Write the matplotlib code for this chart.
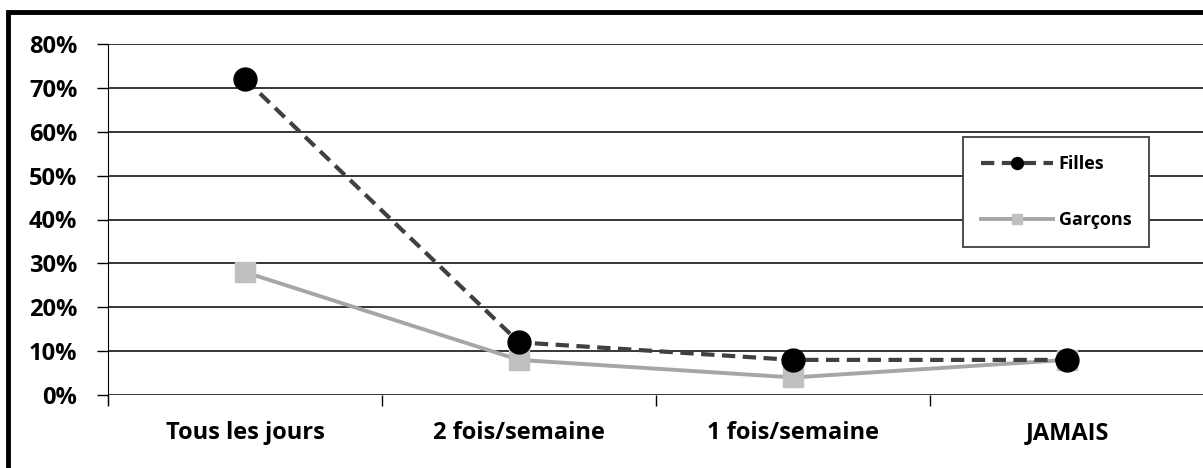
import matplotlib.pyplot as plt
from matplotlib.patches import Rectangle
from matplotlib.ticker import FixedLocator, PercentFormatter

categories = ["Tous les jours", "2 fois/semaine", "1 fois/semaine", "JAMAIS"]
filles = [72, 12, 8, 8]
garcons = [28, 8, 4, 8]
y_ticks = [0, 10, 20, 30, 40, 50, 60, 70, 80]

plt.rcParams['font.family'] = ['Open Sans', 'DejaVu Sans']

fig = plt.figure(figsize=(12.03, 4.68), dpi=100)
ax = fig.add_axes([108 / 1203, 73 / 468, 1096 / 1203, 351 / 468])

x = list(range(len(categories)))
ax.plot(x, filles, color='#404040', lw=3, ls=(0, (3.2, 1.8)), marker='o',
        markersize=16.5, markerfacecolor='black', markeredgecolor='black',
        label='Filles', zorder=4)
ax.plot(x, garcons, color='#A6A6A6', lw=2.8, marker='s', markersize=15,
        markerfacecolor='#C0C0C0', markeredgecolor='#C0C0C0',
        label='Garçons', zorder=3)

ax.set_xlim(-0.5, len(categories) - 0.5)
ax.set_ylim(0, 80)
ax.set_yticks(y_ticks)
ax.yaxis.set_major_formatter(PercentFormatter(decimals=0))
ax.grid(axis='y', color='black', lw=1.1)
ax.set_axisbelow(True)

ax.set_xticks(x)
ax.set_xticklabels(categories, fontsize=17, fontweight='bold')
ax.xaxis.set_minor_locator(FixedLocator([i - 0.5 for i in range(len(categories) + 1)]))
ax.tick_params(axis='x', which='major', length=0, pad=19)
ax.tick_params(axis='x', which='minor', length=8, width=1, color='black')
ax.tick_params(axis='y', length=8, width=1, labelsize=17, pad=14)
for lab in ax.get_yticklabels():
    lab.set_fontweight('bold')

for side in ['top', 'right']:
    ax.spines[side].set_visible(False)
ax.spines['left'].set_bounds(-2, 80)
ax.spines['bottom'].set_visible(False)

leg = ax.legend(loc='upper left', bbox_to_anchor=((963 - 108) / 1096, (395 - 137) / 351),
                frameon=True, fancybox=False, edgecolor='#404040', framealpha=1,
                prop={'weight': 'bold', 'size': 13}, handlelength=4.0,
                markerscale=0.52, labelspacing=2.1, borderpad=1.0,
                handletextpad=0.3, borderaxespad=0)
leg.get_frame().set_linewidth(1.3)

fig.patches.append(Rectangle((8 / 1203, -0.05), 1.1, (468 - 12) / 468 + 0.05,
                             transform=fig.transFigure, fill=False,
                             edgecolor='black', lw=3.5))

fig.savefig('out.png', dpi=100)
